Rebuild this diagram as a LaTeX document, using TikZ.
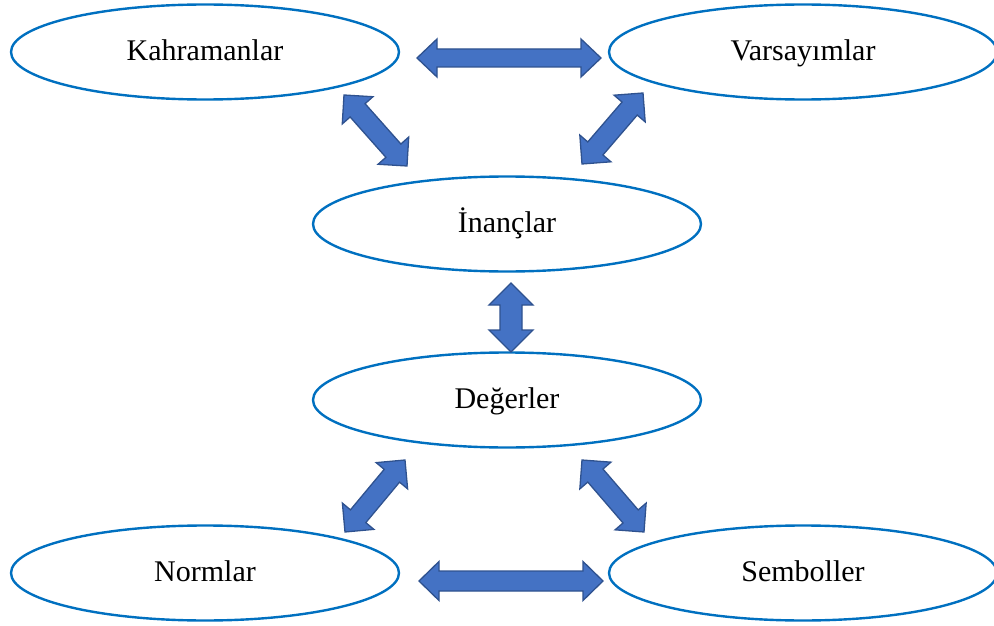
\documentclass[tikz,border=0pt]{standalone}
\usepackage{fontspec}
\setmainfont{Liberation Serif}
\usetikzlibrary{shapes.geometric,calc}
\definecolor{ellblue}{HTML}{0070C0}
\definecolor{arrfill}{HTML}{4472C4}
\definecolor{arrline}{HTML}{2F528F}
\tikzset{
  oval/.style={ellipse, draw=ellblue, line width=2.4pt, fill=white, minimum width=388pt, minimum height=95pt, inner sep=0pt, font=\fontsize{30}{34}\selectfont, text height=25pt, text depth=8pt},
  blockarr/.style={fill=arrfill, draw=arrline, line width=1.3pt, line join=miter}
}
\newcommand{\blockarrow}[5]{%
  \path[blockarr] let \p1=($(#2)-(#1)$), \n1={atan2(\y1,\x1)}, \n2={veclen(\x1,\y1)} in
    [shift={(#1)}, rotate=\n1]
    (0,0) -- (#5,#4) -- (#5,#3) -- ({\n2-#5},#3) -- ({\n2-#5},#4) -- ({\n2},0)
    -- ({\n2-#5},-#4) -- ({\n2-#5},-#3) -- (#5,-#3) -- (#5,-#4) -- cycle;}
\begin{document}
\begin{tikzpicture}[x=1pt,y=-1pt]
\useasboundingbox (0,0) rectangle (994,626);
\node[oval] (kah) at (205,52) {Kahramanlar};
\node[oval] (var) at (803,52) {Varsayımlar};
\node[oval] (ina) at (507,224) {İnançlar};
\node[oval] (deg) at (507,400) {Değerler};
\node[oval] (nor) at (205,573) {Normlar};
\node[oval] (sem) at (803,573) {Semboller};
% arrow end points
\coordinate (h1a) at (417,58);  \coordinate (h1b) at (601,58);
\coordinate (h2a) at (419,581); \coordinate (h2b) at (603,581);
\coordinate (v1a) at (511,283); \coordinate (v1b) at (511,352);
\coordinate (d1a) at (344,95);  \coordinate (d1b) at (407,166);
\coordinate (d2a) at (643,93);  \coordinate (d2b) at (582,164);
\coordinate (d3a) at (405,460); \coordinate (d3b) at (345,532);
\coordinate (d4a) at (582,460); \coordinate (d4b) at (644,532);
\blockarrow{h1a}{h1b}{9}{19}{20}
\blockarrow{h2a}{h2b}{10}{19.5}{20}
\blockarrow{v1a}{v1b}{11}{22}{22}
\blockarrow{d1a}{d1b}{10}{20.5}{20.5}
\blockarrow{d2a}{d2b}{10}{20.5}{20.5}
\blockarrow{d3a}{d3b}{10}{20.5}{20.5}
\blockarrow{d4a}{d4b}{10}{20.5}{20.5}
\end{tikzpicture}
\end{document}
